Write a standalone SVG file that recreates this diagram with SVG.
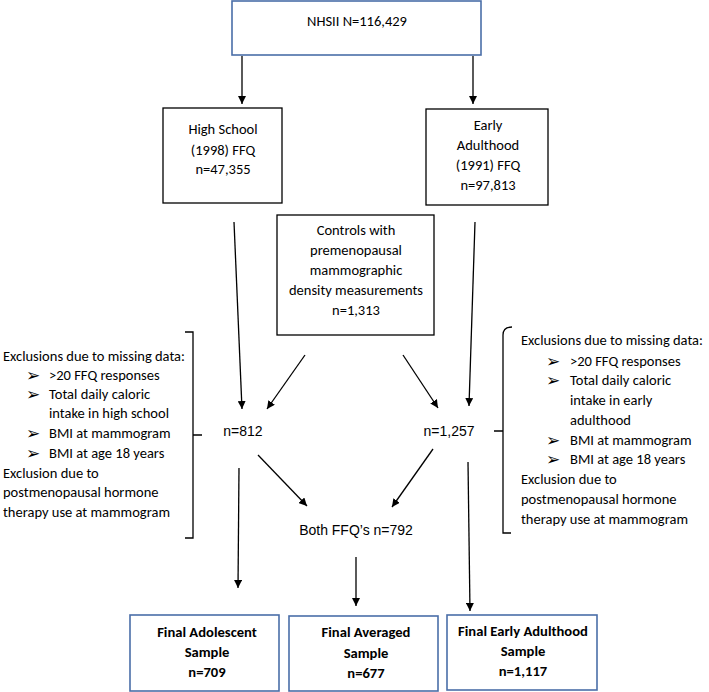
<svg xmlns="http://www.w3.org/2000/svg" width="709" height="692" viewBox="0 0 709 692">
<defs>
<marker id="ah" viewBox="0 0 10 10" refX="10" refY="5" markerWidth="8" markerHeight="8" markerUnits="userSpaceOnUse" orient="auto">
<path d="M0,0 L10,5 L0,10 z" fill="#000"/>
</marker>
<style>
.c{font-family:Carlito,Lato,"Liberation Sans",sans-serif;font-size:14.5px;fill:#000}
.cb{font-family:Carlito,Lato,"Liberation Sans",sans-serif;font-size:14.6px;font-weight:bold;fill:#000}
.a{font-family:"Liberation Sans",Arial,sans-serif;font-size:14px;fill:#000}
.bl{font-family:"DejaVu Sans",sans-serif;font-size:17px;fill:#000}
.box{fill:#fff;stroke:#000;stroke-width:1.3}
.bbox{fill:#fff;stroke:#4a6ea8;stroke-width:1.6}
.ln{stroke:#000;stroke-width:1.3;fill:none}
.ar{stroke:#000;stroke-width:1.3;fill:none;marker-end:url(#ah)}
</style>
</defs>
<rect width="709" height="692" fill="#fff"/>

<g id="connectors">
<line class="ar" x1="242" y1="56" x2="242" y2="104"/>
<line class="ar" x1="473" y1="56" x2="473" y2="104"/>
<line class="ar" x1="234" y1="222" x2="242" y2="409"/>
<line class="ar" x1="475" y1="222" x2="469" y2="406"/>
<line class="ar" x1="305" y1="355" x2="267" y2="409"/>
<line class="ar" x1="403" y1="355" x2="438" y2="408"/>
<line class="ar" x1="258" y1="455" x2="307" y2="506"/>
<line class="ar" x1="433" y1="449" x2="392" y2="507"/>
<line class="ar" x1="239" y1="468" x2="238" y2="588"/>
<line class="ar" x1="356" y1="557" x2="356" y2="606"/>
<line class="ar" x1="468" y1="462" x2="470" y2="611"/>
</g>

<g id="nhsii">
<rect class="bbox" x="232" y="1" width="249" height="54"/>
<text class="c" x="357" y="26" text-anchor="middle">NHSII N=116,429</text>
</g>

<g id="highschool">
<rect class="box" x="163" y="108" width="119" height="95"/>
<text class="c" text-anchor="middle"><tspan x="223" y="134">High School</tspan><tspan x="223" y="155">(1998) FFQ</tspan><tspan x="223" y="174">n=47,355</tspan></text>
</g>

<g id="earlyadult">
<rect class="box" x="426" y="109" width="122" height="96"/>
<text class="c" text-anchor="middle"><tspan x="488" y="130">Early</tspan><tspan x="488" y="150">Adulthood</tspan><tspan x="488" y="170">(1991) FFQ</tspan><tspan x="488" y="190">n=97,813</tspan></text>
</g>

<g id="controls">
<rect class="box" x="277" y="215" width="157" height="120"/>
<text class="c" text-anchor="middle"><tspan x="356" y="235">Controls with</tspan><tspan x="356" y="255">premenopausal</tspan><tspan x="356" y="275">mammographic</tspan><tspan x="356" y="295">density measurements</tspan><tspan x="356" y="315">n=1,313</tspan></text>
</g>

<g id="n812">
<text class="a" x="243" y="436" text-anchor="middle">n=812</text>
</g>

<g id="n1257">
<text class="a" x="449" y="436" text-anchor="middle">n=1,257</text>
</g>

<g id="both">
<text class="a" x="356" y="535" text-anchor="middle">Both FFQ’s n=792</text>
</g>

<g id="exclusions-left">
<path class="ln" d="M185,332 L193,332 L193,435 L202,435 M193,435 L193,538 L185,538"/>
<text class="c" x="3" y="361">Exclusions due to missing data:</text>
<text class="bl" x="26" y="381">➢</text>
<text class="c" x="49" y="380">&gt;20 FFQ responses</text>
<text class="bl" x="26" y="400">➢</text>
<text class="c" x="49" y="399">Total daily caloric</text>
<text class="c" x="49" y="418">intake in high school</text>
<text class="bl" x="26" y="439">➢</text>
<text class="c" x="49" y="438">BMI at mammogram</text>
<text class="bl" x="26" y="459">➢</text>
<text class="c" x="49" y="458">BMI at age 18 years</text>
<text class="c" x="3" y="478">Exclusion due to</text>
<text class="c" x="3" y="497">postmenopausal hormone</text>
<text class="c" x="3" y="517">therapy use at mammogram</text>
</g>

<g id="exclusions-right">
<path class="ln" d="M512,327 Q503,327 503,335 L503,431 L494,431 M503,431 L503,533 L511,533"/>
<text class="c" x="521" y="345">Exclusions due to missing data:</text>
<text class="bl" x="546" y="367">➢</text>
<text class="c" x="570" y="366">&gt;20 FFQ responses</text>
<text class="bl" x="546" y="386">➢</text>
<text class="c" x="570" y="385">Total daily caloric</text>
<text class="c" x="570" y="405">intake in early</text>
<text class="c" x="570" y="425">adulthood</text>
<text class="bl" x="546" y="446">➢</text>
<text class="c" x="570" y="445">BMI at mammogram</text>
<text class="bl" x="546" y="465">➢</text>
<text class="c" x="570" y="464">BMI at age 18 years</text>
<text class="c" x="521" y="484">Exclusion due to</text>
<text class="c" x="521" y="504">postmenopausal hormone</text>
<text class="c" x="521" y="524">therapy use at mammogram</text>
</g>

<g id="final-adolescent">
<rect class="bbox" x="130" y="615" width="149" height="76"/>
<text class="cb" text-anchor="middle"><tspan x="207" y="637">Final Adolescent</tspan><tspan x="207" y="657">Sample</tspan><tspan x="207" y="677">n=709</tspan></text>
</g>

<g id="final-averaged">
<rect class="bbox" x="289" y="616" width="149" height="75"/>
<text class="cb" text-anchor="middle"><tspan x="366" y="637">Final Averaged</tspan><tspan x="366" y="658">Sample</tspan><tspan x="366" y="678">n=677</tspan></text>
</g>

<g id="final-early">
<rect class="bbox" x="447" y="615" width="150" height="75"/>
<text class="cb" text-anchor="middle"><tspan x="523" y="636">Final Early Adulthood</tspan><tspan x="523" y="656">Sample</tspan><tspan x="523" y="676">n=1,117</tspan></text>
</g>
</svg>
